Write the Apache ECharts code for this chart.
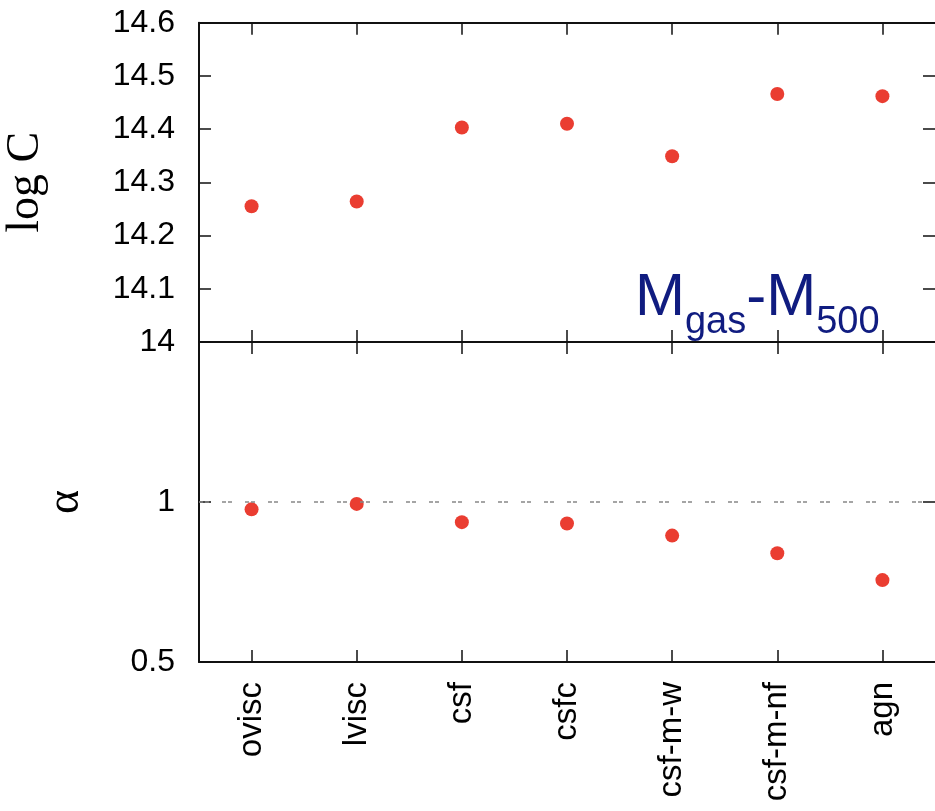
<!DOCTYPE html>
<html>
<head>
<meta charset="utf-8">
<script src="https://cdn.jsdelivr.net/npm/echarts@6/dist/echarts.min.js"></script>
<style>
  html, body { margin: 0; padding: 0; background: #fff; }
  #chart { width: 935px; height: 811px; }
</style>
</head>
<body>
<div id="chart"></div>
<script>
  // simulation runs
  const runs = ['ovisc', 'lvisc', 'csf', 'csfc', 'csf-m-w', 'csf-m-nf', 'agn']
  // normalisation log C (upper panel)
  const logC = [14.255, 14.264, 14.403, 14.41, 14.349, 14.466, 14.462]
  // slope alpha (lower panel)
  const alpha = [0.977, 0.994, 0.937, 0.933, 0.895, 0.84, 0.756]

  const black = '#111'
  const dotColor = '#ea3d31'
  const gridLeft = 199
  // keep the plot inside the canvas, ticks go missing when it sticks out
  const gridWidth = 736

  // mirror axes keep tiny invisible labels inside the plot, otherwise ECharts drops their ticks
  const hiddenLabel = { show: true, inside: true, margin: 2, fontSize: 1, color: 'rgba(0,0,0,0)', hideOverlap: false }

  function xAx(gridIndex, position, showLabel) {
    return {
      type: 'category',
      gridIndex: gridIndex,
      position: position,
      data: runs,
      boundaryGap: true,
      axisLine: { lineStyle: { color: black, width: 2 } },
      axisTick: { show: true, inside: true, length: 12, interval: 0, alignWithLabel: true, lineStyle: { color: black, width: 1.5 } },
      axisLabel: showLabel ? {
        show: true,
        interval: 0,
        rotate: 90,
        margin: 20,
        color: '#000',
        fontFamily: 'Liberation Sans',
        fontSize: 33,
        hideOverlap: false
      } : Object.assign({ interval: 0 }, hiddenLabel),
      splitLine: { show: false }
    }
  }

  function yAx(gridIndex, position, min, max, interval, showLabel, name) {
    return {
      type: 'value',
      gridIndex: gridIndex,
      position: position,
      min: min,
      max: max,
      interval: interval,
      name: name,
      nameLocation: 'middle',
      nameGap: gridIndex === 0 ? 150 : 110,
      nameTextStyle: { fontFamily: 'Liberation Serif', fontSize: 46, color: '#000' },
      // the right frame edge is cut off in the reference, only its ticks show
      axisLine: { show: position === 'left', lineStyle: { color: black, width: 2 } },
      axisTick: { show: true, inside: true, length: 12, lineStyle: { color: black, width: 1.5 } },
      axisLabel: showLabel ? {
        show: true,
        margin: 24,
        color: '#000',
        fontFamily: 'Liberation Sans',
        fontSize: 32,
        hideOverlap: false,
        formatter: function (v) {
          // the top of the lower panel is labelled by the upper panel ("14")
          return (gridIndex === 1 && v === max) ? ' ' : String(v)
        }
      } : hiddenLabel,
      splitLine: { show: false }
    }
  }

  const option = {
    backgroundColor: '#fff',
    animation: false,
    grid: [
      { left: gridLeft, top: 22.7, width: gridWidth, height: 319.3, outerBoundsMode: 'none', containLabel: false },
      { left: gridLeft, top: 342, width: gridWidth, height: 320, outerBoundsMode: 'none', containLabel: false }
    ],
    xAxis: [
      xAx(0, 'bottom', false),
      xAx(0, 'top', false),
      xAx(1, 'bottom', true),
      xAx(1, 'top', false)
    ],
    yAxis: [
      yAx(0, 'left', 14, 14.6, 0.1, true, 'log C'),
      yAx(0, 'right', 14, 14.6, 0.1, false, ''),
      yAx(1, 'left', 0.5, 1.5, 0.5, true, 'α'),
      yAx(1, 'right', 0.5, 1.5, 0.5, false, '')
    ],
    graphic: [
      {
        type: 'text',
        left: 635,
        top: 268,
        z: 10,
        style: {
          text: '{m|M}{s|gas}{m|-M}{s|500}',
          fill: '#101c80',
          rich: {
            m: { fontFamily: 'Liberation Sans', fontSize: 60, lineHeight: 60, padding: [0, 0, 14, 0], verticalAlign: 'bottom', fill: '#101c80' },
            s: { fontFamily: 'Liberation Sans', fontSize: 38, lineHeight: 38, verticalAlign: 'bottom', fill: '#101c80' }
          }
        }
      }
    ],
    series: [
      {
        type: 'scatter',
        xAxisIndex: 0,
        yAxisIndex: 0,
        data: logC,
        symbolSize: 14,
        itemStyle: { color: dotColor, opacity: 1 }
      },
      {
        type: 'scatter',
        xAxisIndex: 2,
        yAxisIndex: 2,
        data: alpha,
        symbolSize: 14,
        itemStyle: { color: dotColor, opacity: 1 },
        markLine: {
          silent: true,
          symbol: 'none',
          label: { show: false },
          lineStyle: { color: '#888', width: 1.5, type: [4, 2, 4, 13] },
          data: [{ yAxis: 1 }]
        }
      }
    ]
  }

  const myChart = echarts.init(document.getElementById('chart'))
  myChart.setOption(option, true)
</script>
</body>
</html>
